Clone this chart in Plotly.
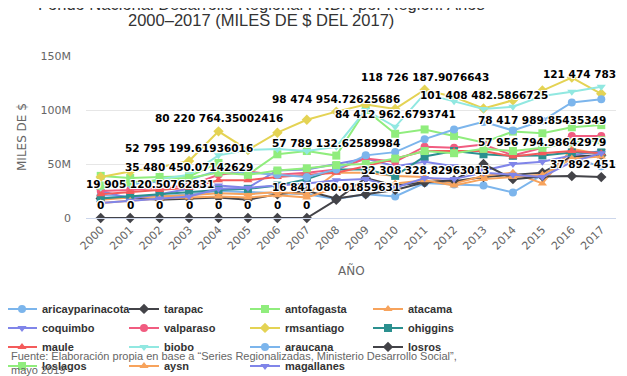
import plotly.graph_objects as go

years = [str(y) for y in range(2000, 2018)]

series_names = ["aricayparinacota", "tarapac", "antofagasta", "atacama", "coquimbo",
                "valparaso", "rmsantiago", "ohiggins", "maule", "biobo",
                "araucana", "losros", "loslagos", "aysn", "magallanes"]

aricayparinacota = [21e6, 19905120.50762831, 20e6, 22e6, 25e6, 24e6, 23e6, 22e6, 17.5e6, 22e6, 20e6, 32308328.82963013, 31e6, 30e6, 23.6e6, 40e6, 55e6, 48e6]
tarapac = [18e6, 19e6, 17e6, 18e6, 19e6, 17e6, 22e6, 25e6, 18e6, 22e6, 26e6, 33e6, 34e6, 38e6, 40e6, 42e6, 57e6, 58e6]
antofagasta = [39e6, 37e6, 38e6, 38.5e6, 51e6, 40e6, 59e6, 62e6, 57789132.62589984, 100e6, 78e6, 82e6, 76e6, 70e6, 80e6, 78417989.85435349, 84e6, 86e6]
atacama = [17e6, 19e6, 20e6, 21e6, 23e6, 22e6, 24e6, 22e6, 42e6, 42e6, 39e6, 38e6, 32e6, 39e6, 42e6, 32e6, 64e6, 59e6]
coquimbo = [25e6, 18e6, 22e6, 27e6, 30e6, 28e6, 44e6, 45e6, 50e6, 55e6, 48e6, 52e6, 48e6, 44e6, 50e6, 52e6, 58e6, 62e6]
valparaso = [25e6, 26e6, 28e6, 30e6, 40e6, 43e6, 40e6, 42e6, 45e6, 55e6, 52e6, 66e6, 65e6, 68e6, 58e6, 65e6, 76e6, 76e6]
rmsantiago = [38e6, 43e6, 47e6, 52795199.61936016, 80220764.35002416, 63e6, 79e6, 91e6, 98474954.72625686, 105e6, 101e6, 118726187.9076643, 112e6, 101408482.5866725, 109e6, 118e6, 130e6, 115e6]
ohiggins = [18e6, 20e6, 22e6, 24e6, 26e6, 27e6, 30e6, 36e6, 45e6, 45e6, 39e6, 57e6, 62e6, 59e6, 57.6e6, 57956794.98642979, 60.7e6, 60.7e6]
maule = [22e6, 24e6, 26e6, 28e6, 35e6, 35e6, 38e6, 40e6, 42e6, 48e6, 55e6, 62e6, 62e6, 62e6, 57e6, 60e6, 62e6, 60e6]
biobo = [28e6, 30e6, 36e6, 40e6, 58e6, 63e6, 64e6, 62e6, 66e6, 100e6, 84412962.6793741, 115e6, 108e6, 101e6, 103e6, 113e6, 117e6, 121474783.0]
araucana = [30e6, 32e6, 34e6, 35480450.07142629, 44e6, 42e6, 40e6, 38e6, 45e6, 58e6, 61e6, 73e6, 82e6, 89e6, 81e6, 90e6, 107e6, 110e6]
losros = [0, 0, 0, 0, 0, 0, 0, 0, 16841080.01859631, 37e6, 30e6, 33e6, 35e6, 50e6, 36e6, 38.5e6, 38.8e6, 37892451.0]
loslagos = [30e6, 33e6, 35e6, 37e6, 42e6, 40e6, 44e6, 46e6, 49e6, 50e6, 55e6, 62e6, 60e6, 64e6, 62e6, 65e6, 70e6, 72e6]
aysn = [14e6, 16e6, 18e6, 19e6, 20e6, 19e6, 21e6, 19e6, 28e6, 30e6, 32e6, 35e6, 30e6, 36e6, 38e6, 40e6, 55e6, 57e6]
magallanes = [14e6, 16e6, 18e6, 20e6, 27e6, 28e6, 30e6, 32e6, 35e6, 36e6, 28e6, 37e6, 36e6, 42e6, 40e6, 38e6, 52e6, 60e6]

series_values = [aricayparinacota, tarapac, antofagasta, atacama, coquimbo, valparaso,
                 rmsantiago, ohiggins, maule, biobo, araucana, losros, loslagos, aysn, magallanes]

# points whose data label is visible in the reference
labeled_points = [("losros", y) for y in ["2000", "2001", "2002", "2003", "2004", "2005", "2006", "2007"]] + [
    ("aricayparinacota", "2001"), ("araucana", "2003"), ("rmsantiago", "2003"),
    ("rmsantiago", "2004"), ("rmsantiago", "2008"), ("antofagasta", "2008"),
    ("losros", "2008"), ("biobo", "2010"), ("rmsantiago", "2011"),
    ("aricayparinacota", "2011"), ("rmsantiago", "2013"), ("antofagasta", "2015"),
    ("ohiggins", "2015"), ("biobo", "2017"), ("losros", "2017")]

y_title = "MILES DE $"
x_title = "AÑO"
title_lines = ["Fondo Nacional Desarrollo Regional FNDR por Región. Años",
               "2000–2017 (MILES DE $ DEL 2017)"]
credits = "Fuente: Elaboración propia en base a “Series Regionalizadas, Ministerio Desarrollo Social”,<br>mayo 2019"

palette = ["#7cb5ec", "#434348", "#90ed7d", "#f7a35c", "#8085e9",
           "#f15c80", "#e4d354", "#2b908f", "#f45b5b", "#91e8e1"]
symbols = ["circle", "diamond", "square", "triangle-up", "triangle-down"]

# the page adds an 8px body margin, so the figure is 8px smaller than the window
W, H = 619, 368
ML, MR, MT, MB = 78, 11, 47.7, 157.7
plot_w = W - ML - MR
plot_h = H - MT - MB
y0 = H - MB  # pixel row of the plot bottom
N_COLS = 4


def px_to_paper_x(px):
    return (px - ML) / plot_w


def px_to_paper_y(py):
    return (y0 - py) / plot_h


legend_ids = ["legend"] + ["legend%d" % k for k in range(2, N_COLS + 1)]

fig = go.Figure()
for i, (name, vals) in enumerate(zip(series_names, series_values)):
    fig.add_trace(go.Scatter(
        x=years, y=vals, name=name, mode="lines+markers",
        line=dict(color=palette[i % 10], width=2),
        marker=dict(symbol=symbols[i % 5], size=8, color=palette[i % 10]),
        legend=legend_ids[i % N_COLS],
        cliponaxis=False, hoverinfo="skip"))


def fmt(v):
    s = repr(float(v))
    ip, dp = s.split(".")
    ip = "{:,}".format(int(ip)).replace(",", " ")
    return ip if dp == "0" else ip + "." + dp


LABEL_SIZE = 10.5


def text_width(s, size=LABEL_SIZE):
    w = 0
    for ch in s:
        w += 0.696 if ch.isdigit() else (0.348 if ch == " " else 0.38)
    return w * size


band = plot_w / len(years)
for name, yr in labeled_points:
    vals = series_values[series_names.index(name)]
    idx = years.index(yr)
    txt = fmt(vals[idx])
    w = text_width(txt)
    c = (idx + 0.5) * band
    shift = 0
    if c - w / 2 < 0:
        shift = w / 2 - c
    elif c + w / 2 > plot_w:
        shift = plot_w - (c + w / 2)
    fig.add_annotation(
        x=idx, y=vals[idx], text=txt, showarrow=False, xanchor="center", yanchor="middle",
        yshift=13, xshift=shift,
        font=dict(family="DejaVu Sans", size=LABEL_SIZE, color="#000000", weight="bold",
                  shadow="1px 1px 0 #fff, -1px -1px 0 #fff, 1px -1px 0 #fff, -1px 1px 0 #fff"))

# title (its first line runs off the top of the page, as in the reference)
for line, cy in zip(title_lines, [-4, 12]):
    fig.add_annotation(
        xref="paper", yref="paper", x=px_to_paper_x(253), y=px_to_paper_y(cy),
        xanchor="center", yanchor="middle", showarrow=False, text=line,
        font=dict(family="Liberation Sans", size=16.5, color="#333333"))

# axis titles
fig.add_annotation(
    xref="paper", yref="paper", x=0.5, y=px_to_paper_y(263),
    xanchor="center", yanchor="middle", showarrow=False, text=x_title,
    font=dict(family="DejaVu Sans", size=12, color="#666666"))
fig.add_annotation(
    xref="paper", yref="paper", x=px_to_paper_x(14), y=0.5, textangle=-90,
    xanchor="center", yanchor="middle", showarrow=False, text=y_title,
    font=dict(family="DejaVu Sans", size=12, color="#666666"))

# source note
fig.add_annotation(
    xref="paper", yref="paper", x=px_to_paper_x(1), y=px_to_paper_y(341),
    xanchor="left", yanchor="top", align="left", showarrow=False, text=credits,
    font=dict(family="Liberation Sans", size=11, color="#666666"))

legend_style = dict(orientation="v", xref="paper", yref="paper",
                    xanchor="left", yanchor="top", bgcolor="rgba(0,0,0,0)",
                    font=dict(family="Liberation Sans", size=11, color="#333333", weight="bold"))
col_text_px = [37, 159, 280, 403]
legend_layout = {}
for k, lid in enumerate(legend_ids):
    legend_layout[lid] = dict(legend_style, x=px_to_paper_x(col_text_px[k] - 43), y=px_to_paper_y(287))

fig.update_layout(
    width=W, height=H, margin=dict(l=ML, r=MR, t=MT, b=MB, autoexpand=False),
    paper_bgcolor="#ffffff", plot_bgcolor="#ffffff",
    xaxis=dict(type="category", tickangle=-45, showgrid=False, showline=True,
               linecolor="#ccd6eb", linewidth=1, ticks="", range=[-0.5, 17.5],
               tickfont=dict(family="DejaVu Sans", size=11, color="#666666")),
    yaxis=dict(range=[0, 150e6], dtick=50e6, tickformat="~s", showgrid=True, gridcolor="#e6e6e6",
               zeroline=False, showline=False, ticks="", ticklabelstandoff=14,
               tickfont=dict(family="DejaVu Sans", size=11, color="#666666")),
    showlegend=True,
    **legend_layout,
)

fig.write_html("out.html")
